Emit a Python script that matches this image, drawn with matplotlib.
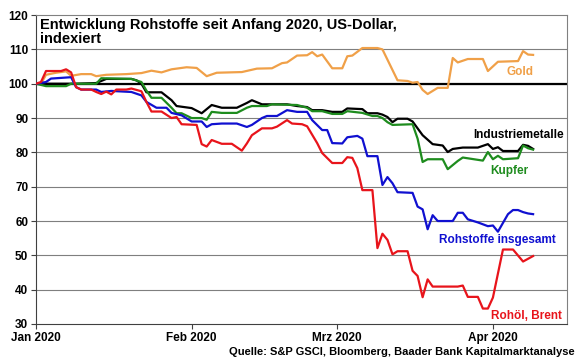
import matplotlib
matplotlib.use("Agg")
from matplotlib import pyplot as plt
import pandas as pd

plt.rcParams['font.family'] = ['Liberation Sans', 'DejaVu Sans']
plt.rcParams['font.weight'] = 'bold'

# Index values (Jan 1 2020 = 100)
gold_dates = ['01-01', '01-02', '01-03', '01-05', '01-07', '01-08', '01-10', '01-12', '01-13', '01-15',
              '01-19', '01-22', '01-24', '01-26', '01-28', '01-31', '02-02', '02-04', '02-06', '02-11',
              '02-14', '02-17', '02-19', '02-20', '02-22', '02-24', '02-25', '02-26', '02-27', '02-29',
              '03-02', '03-03', '03-04', '03-06', '03-09', '03-10', '03-11', '03-13', '03-15', '03-16',
              '03-17', '03-18', '03-19', '03-21', '03-23', '03-24', '03-25', '03-27', '03-30', '03-31',
              '04-02', '04-06', '04-07', '04-08', '04-09']
gold = [100, 100, 102.6, 103.2, 103.6, 102.3, 102.8, 102.8, 102.2, 102.6,
        102.8, 103.1, 103.8, 103.3, 104.2, 104.8, 104.6, 102.2, 103.2, 103.4,
        104.4, 104.5, 106, 106.2, 108.2, 108.3, 109.2, 108, 108.5, 104.5,
        104.5, 108, 108.2, 110.4, 110.4, 110, 107, 101, 100.8, 100.3,
        100.5, 98.2, 97, 98.8, 98.8, 107.5, 106.2, 107.2, 107.2, 103.7,
        106.4, 106.6, 109.5, 108.5, 108.4]

metals_dates = ['01-01', '01-09', '01-13', '01-14', '01-15', '01-20', '01-21', '01-22', '01-23', '01-26',
                '01-28', '01-29', '02-01', '02-03', '02-05', '02-07', '02-10', '02-12', '02-13', '02-15',
                '02-20', '02-22', '02-24', '02-25', '02-27', '02-29', '03-02', '03-03', '03-06', '03-07',
                '03-09', '03-10', '03-11', '03-12', '03-13', '03-15', '03-16', '03-18', '03-20', '03-22',
                '03-23', '03-24', '03-26', '03-29', '03-31', '04-01', '04-02', '04-03', '04-06', '04-07',
                '04-08', '04-09']
metals = [100, 100, 100.2, 100.8, 101.4, 101.4, 101, 100, 97.5, 97.5,
          95.2, 93.5, 92.9, 91.4, 93.8, 93, 93, 94.4, 95.2, 94,
          94, 93.5, 93.2, 92.3, 92.3, 91.8, 91.8, 92.8, 92.6, 91.4,
          91.4, 91, 90.3, 88.8, 89.8, 89.8, 89, 85, 82.4, 82,
          80.1, 81, 81.4, 81.4, 82.4, 81, 81.5, 80.4, 80.4, 82.2,
          81.9, 81]

copper_dates = ['01-01', '01-03', '01-07', '01-08', '01-13', '01-14', '01-20', '01-22', '01-23', '01-24',
                '01-26', '01-28', '01-29', '01-30', '02-01', '02-03', '02-04', '02-05', '02-07', '02-10',
                '02-12', '02-13', '02-16', '02-17', '02-22', '02-24', '02-25', '02-27', '02-29', '03-02',
                '03-03', '03-06', '03-08', '03-09', '03-10', '03-11', '03-12', '03-16', '03-17', '03-18',
                '03-19', '03-22', '03-23', '03-25', '03-26', '03-30', '03-31', '04-01', '04-02', '04-03',
                '04-06', '04-07', '04-08', '04-09']
copper = [100, 99.3, 99.3, 100, 100, 101.6, 101.4, 100.5, 98, 95.9,
          95.9, 93, 91.4, 91.4, 90, 90, 89.5, 91.8, 91.5, 91.5,
          93, 93.5, 93.5, 94, 93.8, 93, 92, 92, 91.2, 91.2,
          92, 91.5, 90.6, 90.6, 90, 88.8, 88, 88.2, 84, 77.2,
          78, 78, 75.1, 77.5, 78.5, 77.6, 80.1, 78, 79, 78,
          78.3, 82, 81.2, 80.8]

total_dates = ['01-01', '01-03', '01-04', '01-08', '01-09', '01-10', '01-13', '01-14', '01-16', '01-20',
               '01-22', '01-23', '01-25', '01-27', '01-28', '01-30', '02-01', '02-03', '02-04', '02-05',
               '02-07', '02-10', '02-12', '02-13', '02-15', '02-16', '02-18', '02-20', '02-22', '02-24',
               '02-25', '02-27', '02-28', '02-29', '03-02', '03-03', '03-05', '03-06', '03-07', '03-09',
               '03-10', '03-11', '03-12', '03-13', '03-16', '03-17', '03-18', '03-19', '03-20', '03-21',
               '03-24', '03-25', '03-26', '03-27', '03-29', '03-31', '04-01', '04-02', '04-04', '04-05',
               '04-06', '04-07', '04-08', '04-09']
total = [100, 100.5, 101.5, 101.9, 99, 98.3, 98.3, 97.6, 97.9, 97.6,
         96.6, 94.7, 93, 93, 91.5, 90.8, 89, 89, 87.4, 88.2,
         88.4, 88.4, 87.4, 88, 90, 90.6, 90.6, 92.3, 91.8, 91.8,
         89.4, 86.5, 86.5, 82.7, 82.6, 84.4, 84.8, 84, 78.9, 78.9,
         70.5, 72.8, 71, 68.4, 68.2, 64.2, 63.4, 57.6, 61.7, 60,
         60, 62.4, 62.4, 60.5, 59.6, 58.5, 58.7, 56.9, 62, 63.2,
         63.2, 62.6, 62.2, 62]

brent_dates = ['01-01', '01-02', '01-03', '01-06', '01-07', '01-08', '01-09', '01-10', '01-12', '01-13',
               '01-14', '01-15', '01-16', '01-17', '01-19', '01-20', '01-22', '01-23', '01-24', '01-26',
               '01-28', '01-29', '01-30', '02-02', '02-03', '02-04', '02-05', '02-07', '02-09', '02-11',
               '02-12', '02-13', '02-15', '02-17', '02-18', '02-20', '02-21', '02-23', '02-24', '02-26',
               '02-27', '02-29', '03-02', '03-03', '03-04', '03-05', '03-06', '03-08', '03-09', '03-10',
               '03-11', '03-12', '03-13', '03-15', '03-16', '03-17', '03-18', '03-19', '03-20', '03-25',
               '03-26', '03-27', '03-29', '03-30', '03-31', '04-01', '04-03', '04-05', '04-07', '04-09']
brent = [100, 100.5, 103.7, 103.7, 104.2, 103.3, 99, 98.3, 98.3, 97.6,
         97, 97.7, 96.9, 98.3, 98.3, 98.6, 97.8, 94.7, 91.9, 91.9,
         90, 90.3, 88.2, 88, 82.4, 81.7, 83.6, 82.5, 82.5, 80.5,
         82.6, 85, 87, 87, 87.5, 89.4, 88.4, 88.2, 87.6, 82.7,
         79.8, 76.9, 76.9, 78.6, 78.4, 75.4, 69, 69, 52.1, 56.3,
         54.5, 50.3, 51.2, 51.2, 45.5, 44, 37.8, 43, 40.9, 40.9,
         41.2, 37.9, 37.9, 34.5, 34.5, 37.7, 51.7, 51.7, 48.2, 49.8]

month_ticks = ['2020-01-01', '2020-02-01', '2020-03-01', '2020-04-01']
month_labels = ['Jan 2020', 'Feb 2020', 'Mrz 2020', 'Apr 2020']
y_ticks = [30, 40, 50, 60, 70, 80, 90, 100, 110, 120]


def to_dates(mmdd):
    return pd.to_datetime(['2020-' + d for d in mmdd])


fig = plt.figure(figsize=(5.8, 3.59), dpi=100)
ax = fig.add_axes([0.062, 0.0975, 0.916, 0.8605])

for y in y_ticks[1:-1]:
    ax.axhline(y, color='#7f7f7f', lw=0.8, zorder=1)
ax.axhline(100, color='black', lw=1.6, zorder=2)

series = [
    (gold_dates, gold, '#F0A048'),
    (metals_dates, metals, 'black'),
    (copper_dates, copper, '#1E8C1E'),
    (total_dates, total, '#1010D0'),
    (brent_dates, brent, '#E8141B'),
]
for d, v, c in series:
    ax.plot(to_dates(d), v, color=c, lw=1.6, zorder=3)

start = pd.Timestamp('2020-01-01')
ax.set_xlim(start, start + pd.Timedelta(days=105.8))
ax.set_ylim(30, 120)
ax.set_yticks(y_ticks)
ax.set_xticks(pd.to_datetime(month_ticks))
ax.set_xticklabels(month_labels)
ax.tick_params(axis='both', labelsize=8.5, length=3.5, width=0.8, color='#404040', pad=2)

for side in ['top', 'right']:
    ax.spines[side].set_color('#808080')
    ax.spines[side].set_linewidth(0.8)
for side in ['left', 'bottom']:
    ax.spines[side].set_color('#404040')
    ax.spines[side].set_linewidth(0.8)

ax.text(0.008, 0.99, 'Entwicklung Rohstoffe seit Anfang 2020, US-Dollar,\nindexiert',
        transform=ax.transAxes, ha='left', va='top', fontsize=10.5, linespacing=1.0)

label_kw = dict(transform=ax.transAxes, ha='right', va='center', fontsize=8.5)
ax.text(0.937, 0.817, 'Gold', color='#F0A048', **label_kw)
ax.text(0.993, 0.612, 'Industriemetalle', color='black', **label_kw)
ax.text(0.927, 0.495, 'Kupfer', color='#1E8C1E', **label_kw)
ax.text(0.978, 0.272, 'Rohstoffe insgesamt', color='#1010D0', **label_kw)
ax.text(0.99, 0.026, 'Rohöl, Brent', color='#E8141B', **label_kw)

fig.text(0.991, 0.02, 'Quelle: S&P GSCI, Bloomberg, Baader Bank Kapitalmarktanalyse',
         ha='right', va='center', fontsize=8)

fig.savefig('out.png', dpi=100)
